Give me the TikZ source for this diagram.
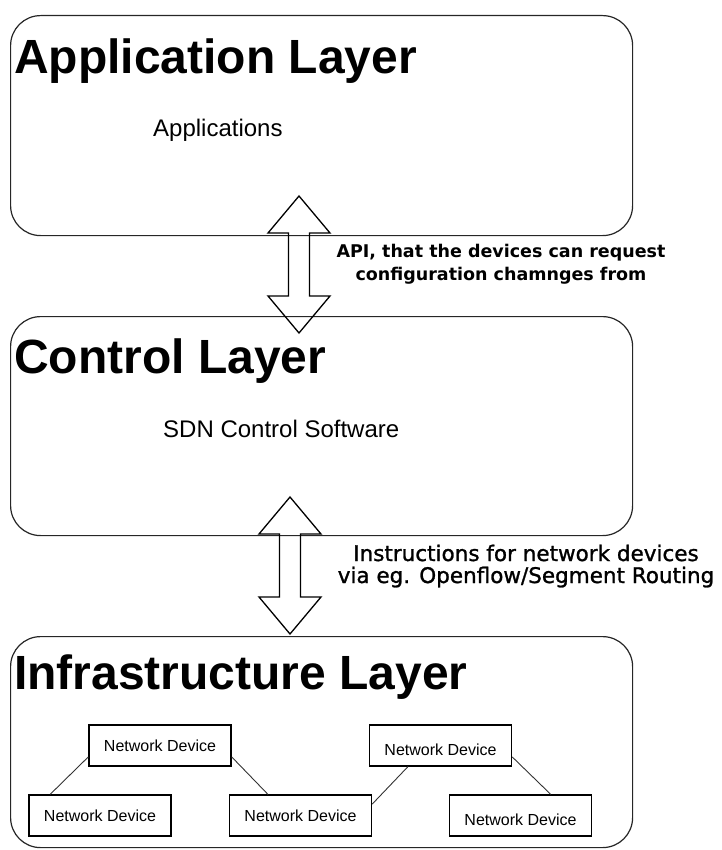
\documentclass[tikz,border=0pt]{standalone}
\usepackage{fontspec}
\setmainfont{Liberation Sans}
\newfontfamily\notefont{DejaVu Sans}
\newfontfamily\mednotefont[FakeBold=1.2]{DejaVu Sans}
\usetikzlibrary{calc}

\tikzset{
  layerbox/.style={draw=black!85, line width=1.2pt, rounded corners=30pt,
    minimum width=622pt, anchor=north west, inner sep=0pt},
  layertitle/.style={anchor=base west, inner sep=0pt,
    font=\fontsize{48}{48}\selectfont\bfseries},
  layertext/.style={anchor=base west, inner sep=0pt,
    font=\fontsize{24}{24}\selectfont},
  device/.style={draw=black, line width=1.3pt, minimum width=142pt,
    minimum height=41pt, inner sep=0pt, font=\fontsize{16}{16}\selectfont},
  link/.style={draw=black!80, line width=0.9pt},
  fatarrow/.style={draw=black, line width=1.3pt, line join=miter},
  note/.style={align=center, anchor=base, inner sep=0pt},
}

% hollow double-headed arrow between two tip coordinates
\newcommand\hollowarrow[2]{%
  \draw[fatarrow] (#1) -- ++(31,37) -- ++(-20.5,0) -- ($(#2)+(10.5,-37)$)
    -- ++(20.5,0) -- (#2) -- ++(-31,-37) -- ++(20.5,0)
    -- ($(#1)+(-10.5,37)$) -- ++(-20.5,0) -- cycle;}

\begin{document}
\begin{tikzpicture}[x=1pt,y=-1pt]
\useasboundingbox (0,0) rectangle (721,850);

% layers
\node[layerbox, minimum height=220pt] (app)   at (10,15)  {};
\node[layerbox, minimum height=219pt] (ctrl)  at (10,316) {};
\node[layerbox, minimum height=211pt] (infra) at (10,636) {};

\node[layertitle] (apptitle)   at (14,74)  {Application Layer};
\node[layertitle] (ctrltitle)  at (14,373) {Control Layer};
\node[layertitle] (infratitle) at (14,689) {Infrastructure Layer};

\node[layertext] (apps) at (153,137) {Applications};
\node[layertext] (sdn)  at (163,437) {SDN Control Software};

% interfaces between layers
\coordinate (apiTop) at (299,196);
\coordinate (apiBot) at (299,333);
\coordinate (sbTop)  at (290,497);
\coordinate (sbBot)  at (290,634);
\hollowarrow{apiTop}{apiBot}
\hollowarrow{sbTop}{sbBot}

\node[note, font=\notefont\bfseries\fontsize{17.5}{23.5}\selectfont] (apinote) at (501,280.5)
  {API, that the devices can request\\configuration chamnges from};
\node[note, font=\mednotefont\fontsize{21.5}{22}\selectfont] (sbnote) at (526,583)
  {Instructions for network devices\\via eg. Openflow/Segment Routing};

% network devices
\node[device] (nd1) at (160,745.5) {Network Device};
\node[device] (nd2) at (100,815.5) {Network Device};
\node[device] (nd3) at (300.5,815.5) {Network Device};
\node[device, label={[yshift=-4pt, font=\fontsize{16}{16}\selectfont]center:Network Device}] (nd4) at (440.5,745.5) {};
\node[device, label={[yshift=-4pt, font=\fontsize{16}{16}\selectfont]center:Network Device}] (nd5) at (520.5,815.5) {};

\draw[link] (nd1.189) -- (nd2.157);
\draw[link] (nd1.351) -- (nd3.147);
\draw[link] (nd3.9)   -- (nd4.213);
\draw[link] (nd4.351) -- (nd5.35);
\end{tikzpicture}
\end{document}
